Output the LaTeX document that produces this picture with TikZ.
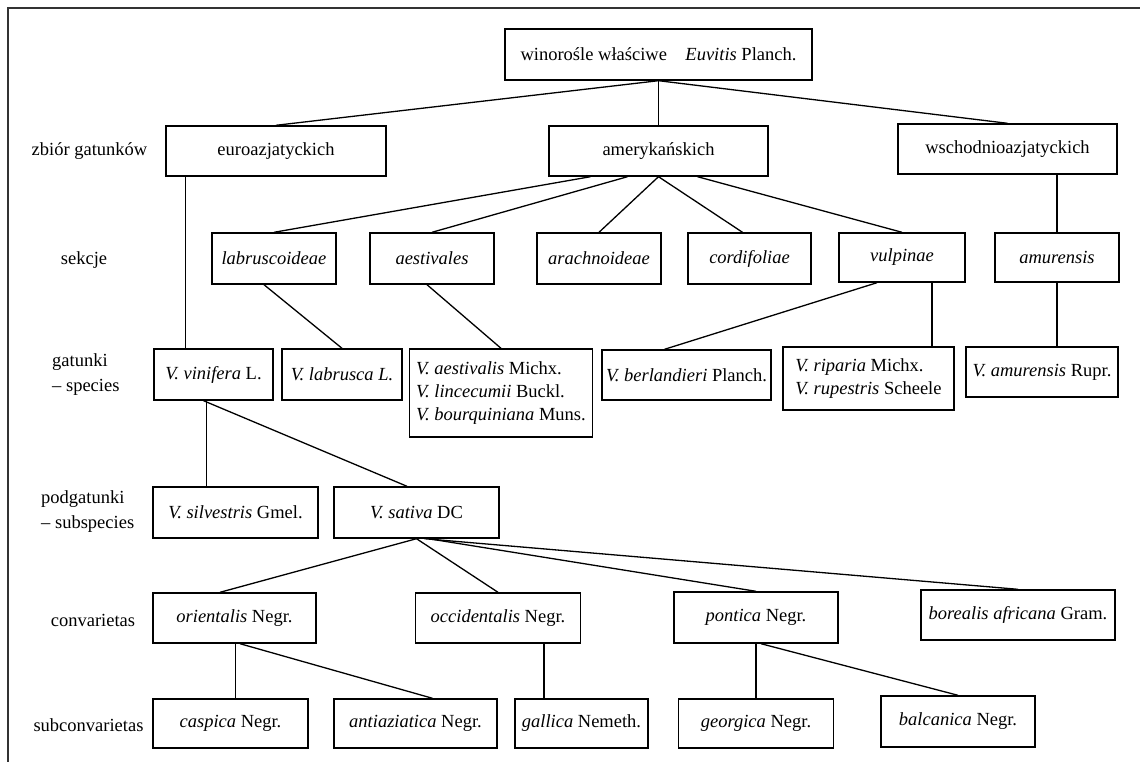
\documentclass[tikz,border=0pt]{standalone}
\usepackage{fontspec}
\setmainfont{Liberation Serif}
\begin{document}
\begin{tikzpicture}[x=1pt,y=-1pt,
  font=\fontsize{18.5}{23}\selectfont,
  bx/.style={draw, line width=1.4pt, inner sep=0pt, align=center},
  lbl/.style={inner sep=0pt, align=left, font=\fontsize{18.5}{25}\selectfont},
  con/.style={line width=1.3pt}]
\useasboundingbox (0,0) rectangle (1140,762);
\draw[line width=1.5pt, black!80] (8,762) -- (8,8) -- (1140,8);

% labels
\node[lbl] (l1) at (89.5,151) {zbiór gatunków};
\node[lbl] (l2) at (84,260) {sekcje};
\node[lbl, anchor=west] (l3) at (52,374.5) {gatunki\\– species};
\node[lbl, anchor=west] (l4) at (41,511.5) {podgatunki\\– subspecies};
\node[lbl] (l5) at (93,620) {convarietas};
\node[lbl] (l6) at (88.5,725) {subconvarietas};

% row 1
\node[bx, minimum width=307pt, minimum height=51pt] (top) at (658.5,54.5) {winorośle właściwe\quad \textit{Euvitis} Planch.};
% row 2
\node[bx, minimum width=220pt, minimum height=50pt] (euro) at (276,151) {euroazjatyckich};
\node[bx, minimum width=219pt, minimum height=50pt] (amer) at (658.5,151) {amerykańskich};
\node[bx, minimum width=219pt, minimum height=50pt] (wsch) at (1007.5,149) {wschodnioazjatyckich};
% row 3
\node[bx, minimum width=124pt, minimum height=51pt] (labrus) at (274,258.5) {\textit{labruscoideae}};
\node[bx, minimum width=124pt, minimum height=51pt] (aestv) at (432,258.5) {\textit{aestivales}};
\node[bx, minimum width=124pt, minimum height=51pt] (arach) at (599,258.5) {\textit{arachnoideae}};
\node[bx, minimum width=123pt, minimum height=51pt] (cordif) at (749.5,258.5) {\textit{cordifoliae}};
\node[bx, minimum width=126pt, minimum height=49pt] (vulp) at (902,257.5) {\textit{vulpinae}};
\node[bx, minimum width=124pt, minimum height=49pt] (amurS) at (1057,257.5) {\textit{amurensis}};
% row 4
\node[bx, minimum width=119pt, minimum height=51pt] (vinif) at (213.5,374.5) {\textit{V. vinifera} L.};
\node[bx, minimum width=120pt, minimum height=51pt] (labrusca) at (342,374.5) {\textit{V. labrusca L.}};
\node[bx, minimum width=183pt, minimum height=88pt, align=left] (aestsp) at (501,393) {\textit{V. aestivalis} Michx.\\\textit{V. lincecumii} Buckl.\\\textit{V. bourquiniana} Muns.};
\node[bx, minimum width=169pt, minimum height=50pt] (berl) at (686.5,375) {\textit{V. berlandieri} Planch.};
\node[bx, minimum width=171pt, minimum height=63pt, align=left] (ripar) at (868.5,378.5) {\textit{V. riparia} Michx.\\\textit{V. rupestris} Scheele};
\node[bx, minimum width=152pt, minimum height=50pt] (amurSp) at (1042,372) {\textit{V. amurensis} Rupr.};
% row 5
\node[bx, minimum width=165pt, minimum height=51pt] (silv) at (235.5,512.5) {\textit{V. silvestris} Gmel.};
\node[bx, minimum width=165pt, minimum height=51pt] (sativa) at (416.5,512.5) {\textit{V. sativa} DC};
% row 6
\node[bx, minimum width=163pt, minimum height=50pt] (orient) at (234.5,618) {\textit{orientalis} Negr.};
\node[bx, minimum width=165pt, minimum height=50pt] (occid) at (498,618) {\textit{occidentalis} Negr.};
\node[bx, minimum width=164pt, minimum height=51pt] (pontica) at (756,617.5) {\textit{pontica} Negr.};
\node[bx, minimum width=194pt, minimum height=50pt] (boreal) at (1018,615) {\textit{borealis africana} Gram.};
% row 7
\node[bx, minimum width=155pt, minimum height=49pt] (caspica) at (230.5,723.5) {\textit{caspica} Negr.};
\node[bx, minimum width=163pt, minimum height=49pt] (antiaz) at (415.5,723.5) {\textit{antiaziatica} Negr.};
\node[bx, minimum width=133pt, minimum height=49pt] (gallica) at (581.5,723.5) {\textit{gallica} Nemeth.};
\node[bx, minimum width=155pt, minimum height=49pt] (georgica) at (756,723.5) {\textit{georgica} Negr.};
\node[bx, minimum width=154pt, minimum height=51pt] (balcanica) at (958,721.5) {\textit{balcanica} Negr.};

% connectors
\draw[con] (top.south) -- (euro.north);
\draw[con] (top.south) -- (amer.north);
\draw[con] (top.south) -- (wsch.north);
\draw[con] ([xshift=-68pt]amer.south) -- (labrus.north);
\draw[con] ([xshift=-31pt]amer.south) -- (aestv.north);
\draw[con] (amer.south) -- (arach.north);
\draw[con] (amer.south) -- ([xshift=-7pt]cordif.north);
\draw[con] ([xshift=39pt]amer.south) -- (vulp.north);
\draw[con] ([xshift=49.5pt]wsch.south) -- (amurS.north);
\coordinate (ev) at ([xshift=-28pt]vinif.north);
\draw[con] (ev) -- (ev |- euro.south);
\draw[con] ([xshift=-10pt]labrus.south) -- (labrusca.north);
\draw[con] ([xshift=-5pt]aestv.south) -- (aestsp.north);
\draw[con] ([xshift=-25pt]vulp.south) -- ([xshift=-22pt]berl.north);
\coordinate (vr) at ([xshift=63.5pt]ripar.north);
\draw[con] (vr) -- (vr |- vulp.south);
\draw[con] (amurS.south) -- (amurS.south |- amurSp.north);
\coordinate (vs) at ([xshift=-7pt]vinif.south);
\draw[con] (vs) -- (vs |- silv.north);
\draw[con] ([xshift=-10pt]vinif.south) -- ([xshift=-9.5pt]sativa.north);
\draw[con] (sativa.south) -- ([xshift=-14.5pt]orient.north);
\draw[con] (sativa.south) -- (occid.north);
\draw[con] ([xshift=12pt]sativa.south) -- (pontica.north);
\draw[con] ([xshift=8pt]sativa.south) -- (boreal.north);
\coordinate (oc) at ([xshift=1pt]orient.south);
\draw[con] (oc) -- (oc |- caspica.north);
\draw[con] ([xshift=5.5pt]orient.south) -- ([xshift=17pt]antiaz.north);
\coordinate (og) at ([xshift=46pt]occid.south);
\draw[con] (og) -- (og |- gallica.north);
\draw[con] (pontica.south) -- (georgica.north);
\draw[con] ([xshift=5pt]pontica.south) -- (balcanica.north);
\end{tikzpicture}
\end{document}
